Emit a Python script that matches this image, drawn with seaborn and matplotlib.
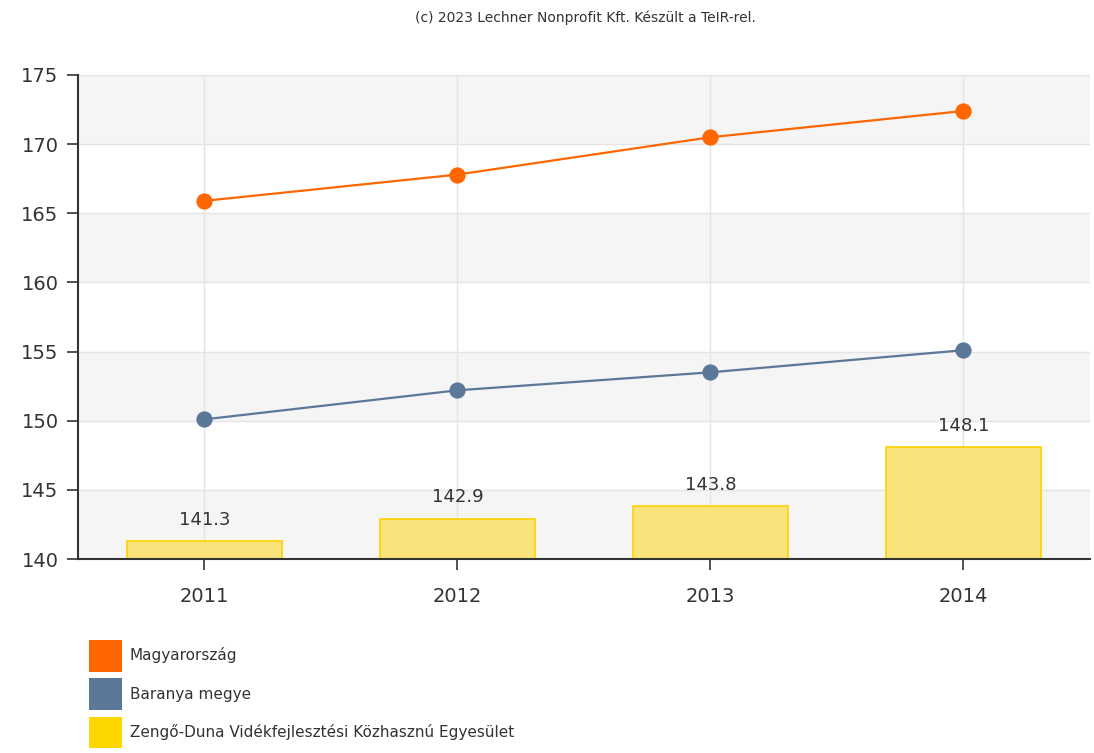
import numpy as np
import pandas as pd
import matplotlib
matplotlib.use("Agg")
import matplotlib.pyplot as plt
from matplotlib.patches import Patch
import seaborn as sns

# data
years = ["2011", "2012", "2013", "2014"]
magyarorszag = [165.9, 167.8, 170.5, 172.4]
baranya = [150.1, 152.2, 153.5, 155.1]
zengo = [141.3, 142.9, 143.8, 148.1]

series_names = ["Magyarország", "Baranya megye",
                "Zengő-Duna Vidékfejlesztési Közhasznú Egyesület"]
colors = ["#ff6600", "#5b7899", "#ffd700"]

sns.set_theme(style="white")
plt.rcParams["font.family"] = ["DejaVu Sans"]

fig = plt.figure(figsize=(10.94, 7.53), dpi=100)
ax = fig.add_axes([0.0713, 0.2576, 0.925, 0.6428])

# alternating horizontal bands
yticks = np.arange(140, 176, 5)
for i in range(len(yticks) - 1):
    if (len(yticks) - 2 - i) % 2 == 0:
        ax.axhspan(yticks[i], yticks[i + 1], color="#f5f5f5", zorder=0, lw=0)
for y in yticks:
    ax.axhline(y, color="#e4e4e4", lw=1, zorder=0.5)
for i in range(len(years)):
    ax.axvline(i, color="#e4e4e4", lw=1, zorder=0.5)

df = pd.DataFrame({"year": years, "Magyarország": magyarorszag,
                   "Baranya": baranya, "Zengo": zengo})

sns.barplot(data=df, x="year", y="Zengo", color="#f9e37a", width=0.61,
            edgecolor="#ffd200", linewidth=1.2, saturation=1, ax=ax, zorder=2)
for i, v in enumerate(zengo):
    ax.text(i, v + 0.9, f"{v:.1f}", ha="center", va="bottom",
            fontsize=13, color="#333333", zorder=5)

sns.pointplot(data=df, x="year", y="Baranya", color=colors[1], markers="o",
              markersize=10.5, linewidth=1.6, ax=ax, zorder=3)
sns.pointplot(data=df, x="year", y="Magyarország", color=colors[0], markers="o",
              markersize=10.5, linewidth=1.6, ax=ax, zorder=4)

ax.set_ylim(140, 175)
ax.set_xlim(-0.5, 3.5)
ax.set_yticks(yticks)
ax.set_xlabel("")
ax.set_ylabel("")
ax.grid(False)
for s in ["top", "right"]:
    ax.spines[s].set_visible(False)
for s in ["left", "bottom"]:
    ax.spines[s].set_color("#333333")
    ax.spines[s].set_linewidth(1.5)
ax.tick_params(axis="both", which="both", direction="out", length=8,
               width=1.2, color="#333333", labelsize=14, labelcolor="#333333",
               bottom=True, left=True)
ax.tick_params(axis="y", pad=6)
ax.tick_params(axis="x", pad=12)

fig.text(0.535, 0.976, "(c) 2023 Lechner Nonprofit Kft. Készült a TeIR-rel.",
         ha="center", va="center", fontsize=10, color="#333333")

handles = [Patch(facecolor=c, edgecolor="none") for c in colors]
fig.legend(handles, series_names, loc="upper left",
           bbox_to_anchor=(0.081, 0.150), frameon=False, fontsize=11,
           handlelength=2.2, handleheight=2.8, handletextpad=0.5,
           labelspacing=0.45, borderaxespad=0, borderpad=0,
           labelcolor="#333333")

fig.savefig("out.png", dpi=100)
